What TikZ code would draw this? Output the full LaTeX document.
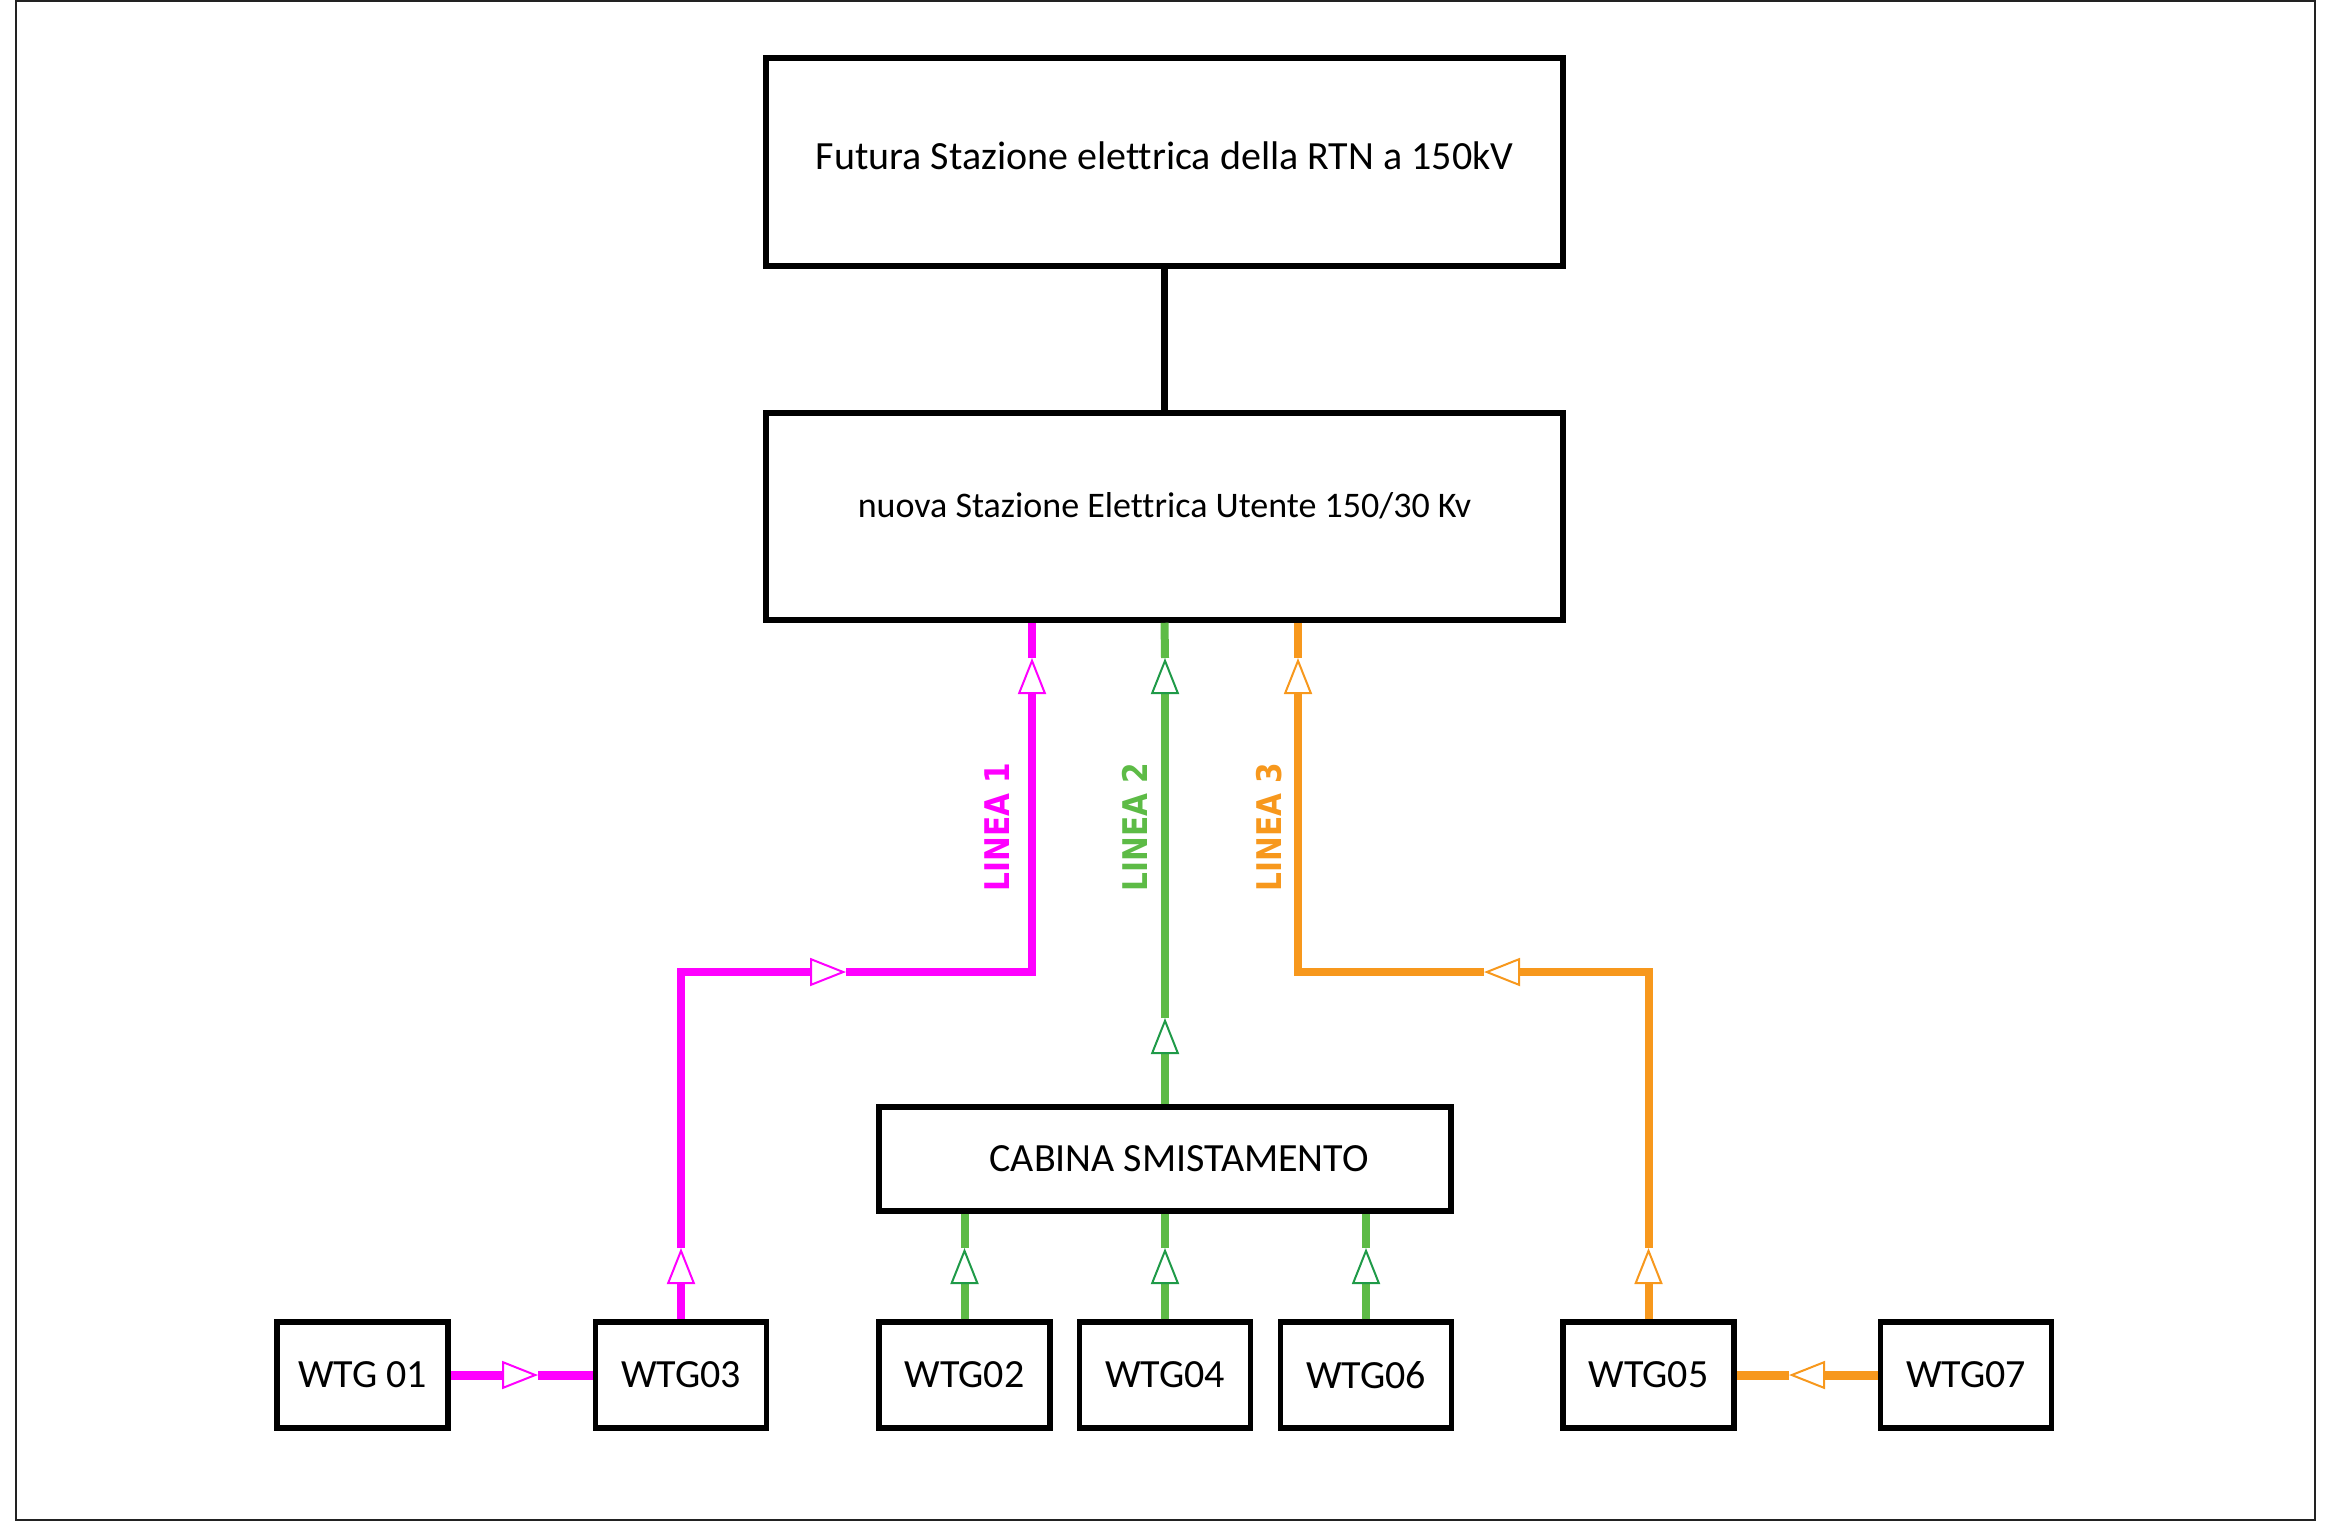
\documentclass[tikz,border=0pt]{standalone}
\usepackage{fontspec}
\setmainfont{Carlito}[Ligatures={NoCommon}]
\newfontfamily\linfont{DejaVu Sans}
\usetikzlibrary{arrows.meta}
\definecolor{magL}{HTML}{FF00FF}
\definecolor{grnL}{HTML}{5DBB46}
\definecolor{grnA}{HTML}{1F9A48}
\definecolor{orgL}{HTML}{F7981D}
\definecolor{frameC}{HTML}{222222}
\tikzset{
  opM/.tip={Triangle[length=18pt,width=14pt,line width=1pt,fill=white,color=magL]},
  opG/.tip={Triangle[length=18pt,width=14pt,line width=1pt,fill=white,color=grnA]},
  opO/.tip={Triangle[length=18pt,width=14pt,line width=1pt,fill=white,color=orgL]},
  boxbase/.style={draw=black,line width=2.75pt,fill=white,inner sep=0pt,align=center},
  bigbox/.style={boxbase,minimum width=398.5pt,font=\fontsize{20pt}{24pt}\selectfont},
  cabbox/.style={boxbase,minimum width=286pt,minimum height=52pt,font=\fontsize{20pt}{24pt}\selectfont},
  wtgbox/.style={boxbase,minimum width=85.5pt,minimum height=53pt,font=\fontsize{20pt}{24pt}\selectfont},
  magline/.style={draw=magL,line width=4pt},
  grnline/.style={draw=grnL,line width=4pt},
  orgline/.style={draw=orgL,line width=4pt},
  blkline/.style={draw=black,line width=3.5pt},
  linlabel/.style={rotate=90,inner sep=0pt,font=\linfont\bfseries\fontsize{17pt}{20pt}\selectfont},
  framebox/.style={draw=frameC,line width=1.25pt}
}
\begin{document}
\begin{tikzpicture}[x=0.5pt,y=-0.5pt]
\useasboundingbox (0,0) rectangle (2339,1528);
\draw[framebox] (16,1) rectangle (2315,1520);

% main boxes
\node[bigbox,minimum height=104pt,text height=14pt,text depth=6.1pt] (rtn) at (1164.5,162) {Futura Stazione elettrica della RTN a 150kV};
\node[bigbox,minimum height=103.5pt,font=\fontsize{18pt}{22pt}\selectfont,text height=12pt,text depth=11.4pt] (seu) at (1164.5,516.5) {nuova Stazione Elettrica Utente 150/30 Kv};
\node[cabbox] (cab) at (1165,1159) {\hspace*{14pt}CABINA SMISTAMENTO};

% turbines
\node[wtgbox] (w01) at (362.5,1375) {WTG 01};
\node[wtgbox] (w03) at (681,1375) {WTG03};
\node[wtgbox] (w02) at (964.5,1375) {WTG02};
\node[wtgbox] (w04) at (1165,1375) {WTG04};
\node[wtgbox] (w06) at (1366,1375) {WTG06};
\node[wtgbox] (w05) at (1648.5,1375) {WTG05};
\node[wtgbox] (w07) at (1966,1375) {WTG07};

% helper coordinates
\coordinate (lowtip) at (0,1248);
\coordinate (hy) at (0,972);
\coordinate (hightip) at (0,658);

% black link
\draw[blkline] (rtn.south) -- (seu.north);

% LINEA 1 (magenta)
\coordinate (ta) at (538,1375);
\draw[magline,line width=4.5pt,-opM] (w01.east) -- (ta);
\draw[magline,line width=4.5pt] (ta) -- (w03.west);
\coordinate (tb) at (w03.north |- lowtip);
\coordinate (c1) at (w03.north |- hy);
\coordinate (tc) at (846,972);
\coordinate (c2) at (1032,972);
\coordinate (td) at (c2 |- hightip);
\draw[magline,-opM] (w03.north) -- (tb);
\draw[magline,-opM] (tb) -- (c1) -- (tc);
\draw[magline,-opM] (tc) -- (c2) -- (td);
\draw[magline] (td) -- (td |- seu.south);

% LINEA 2 (green)
\coordinate (te) at (1165,1018);
\coordinate (tf) at (te |- hightip);
\draw[grnline,-opG] (cab.north) -- (te);
\draw[grnline,-opG] (te) -- (tf);
\draw[grnline] (tf) -- (seu.south);
\foreach \w in {w02,w04,w06}{
  \draw[grnline,-opG] (\w.north) -- (\w.north |- lowtip);
  \draw[grnline] (\w.north |- lowtip) -- (\w.north |- cab.south);
}

% LINEA 3 (orange)
\coordinate (to1) at (1789,1375);
\draw[orgline,line width=4.5pt,-opO] (w07.west) -- (to1);
\draw[orgline,line width=4.5pt] (to1) -- (w05.east);
\coordinate (to2) at (w05.north |- lowtip);
\coordinate (c3) at (w05.north |- hy);
\coordinate (to3) at (1484,972);
\coordinate (c4) at (1298,972);
\coordinate (to4) at (c4 |- hightip);
\draw[orgline,-opO] (w05.north) -- (to2);
\draw[orgline,-opO] (to2) -- (c3) -- (to3);
\draw[orgline,-opO] (to3) -- (c4) -- (to4);
\draw[orgline] (to4) -- (to4 |- seu.south);

% labels
\node[linlabel,text=magL] (l1) at (997.5,827) {\scalebox{0.87}[1]{LINEA 1}};
\node[linlabel,text=grnL] (l2) at (1134.5,827) {\scalebox{0.87}[1]{LINEA 2}};
\node[linlabel,text=orgL] (l3) at (1269,827) {\scalebox{0.87}[1]{LINEA 3}};
\end{tikzpicture}
\end{document}
